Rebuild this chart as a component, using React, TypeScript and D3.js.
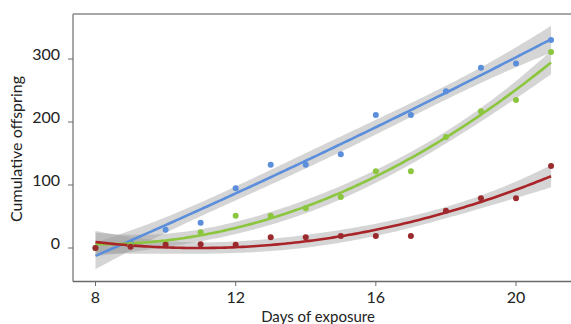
import React from "react";
import * as d3 from "d3";

const days = [8, 9, 10, 11, 12, 13, 14, 15, 16, 17, 18, 19, 20, 21];
const blueValues = [0, 8, 29, 40, 95, 132, 132, 149, 211, 211, 249, 286, 293, 330];
const greenValues = [0, 5, 8, 25, 51, 51, 63, 81, 122, 122, 176, 217, 235, 311];
const redValues = [0, 2, 5, 6, 5, 17, 17, 19, 19, 19, 59, 79, 79, 130];
const xTicks = [8, 12, 16, 20];
const yTicks = [0, 100, 200, 300];

const seriesList = [
  { name: "blue", values: blueValues, color: "#5b8edb", point: "#5b8edb" },
  { name: "green", values: greenValues, color: "#8cc63f", point: "#8cc63f" },
  { name: "red", values: redValues, color: "#a82428", point: "#9b2a2e" },
];

function inv3(m: number[][]) {
  const [a, b, c] = m[0];
  const [d, e, f] = m[1];
  const [g, h, i] = m[2];
  const A = e * i - f * h, B = -(d * i - f * g), C = d * h - e * g;
  const D = -(b * i - c * h), E = a * i - c * g, F = -(a * h - b * g);
  const G = b * f - c * e, H = -(a * f - c * d), I = a * e - b * d;
  const det = a * A + b * B + c * C;
  return [
    [A / det, D / det, G / det],
    [B / det, E / det, H / det],
    [C / det, F / det, I / det],
  ];
}

function quadFit(xs: number[], ys: number[]) {
  const n = xs.length;
  const xtx = [[0, 0, 0], [0, 0, 0], [0, 0, 0]];
  const xty = [0, 0, 0];
  xs.forEach((x, k) => {
    const v = [1, x, x * x];
    for (let i = 0; i < 3; i++) {
      xty[i] += v[i] * ys[k];
      for (let j = 0; j < 3; j++) xtx[i][j] += v[i] * v[j];
    }
  });
  const inv = inv3(xtx);
  const beta = [0, 1, 2].map((i) => inv[i][0] * xty[0] + inv[i][1] * xty[1] + inv[i][2] * xty[2]);
  const pred = (x: number) => beta[0] + beta[1] * x + beta[2] * x * x;
  let sse = 0;
  xs.forEach((x, k) => (sse += (ys[k] - pred(x)) ** 2));
  const s2 = sse / (n - 3);
  const t = 2.201;
  const se = (x: number) => {
    const v = [1, x, x * x];
    let q = 0;
    for (let i = 0; i < 3; i++) for (let j = 0; j < 3; j++) q += v[i] * inv[i][j] * v[j];
    return Math.sqrt(s2 * q);
  };
  return { pred, band: (x: number) => t * se(x) };
}

export default function App() {
  const W = 571, H = 324;
  const x = d3.scaleLinear().domain([8, 20]).range([95.5, 516]);
  const y = d3.scaleLinear().domain([0, 300]).range([248, 59]);
  const grid = d3.range(8, 21.0001, 0.1);
  const font = "Lato, 'Open Sans', sans-serif";

  const fits = seriesList.map((s) => {
    const f = quadFit(days, s.values);
    const pts = grid.map((g) => ({ g, m: f.pred(g), b: f.band(g) }));
    const area = d3.area<any>().x((d) => x(d.g)).y0((d) => y(d.m - d.b)).y1((d) => y(d.m + d.b))(pts) || "";
    const line = d3.line<any>().x((d) => x(d.g)).y((d) => y(d.m))(pts) || "";
    return { s, area, line };
  });

  return (
    <svg width={W} height={H} style={{ position: "absolute", left: 0, top: 0, background: "#fff" }}>
      <rect width={W} height={H} fill="#fff" />
      {fits.map((f) => (
        <path key={f.s.name + "a"} d={f.area} fill="#9a9a9a" fillOpacity={0.42} />
      ))}
      {fits.map((f) => (
        <path key={f.s.name + "l"} d={f.line} fill="none" stroke={f.s.color} strokeWidth={2.6} />
      ))}
      {seriesList.map((s) =>
        days.map((d, i) => (
          <circle key={s.name + d} cx={x(d)} cy={y(s.values[i])} r={3} fill={s.point} />
        ))
      )}
      <line x1={73} x2={571} y1={14} y2={14} stroke="#8a8a8a" strokeWidth={1.5} />
      <line x1={73} x2={73} y1={14} y2={281.5} stroke="#8a8a8a" strokeWidth={1.5} />
      <line x1={73} x2={571} y1={281.5} y2={281.5} stroke="#6a6a6a" strokeWidth={1.5} />
      {yTicks.map((t) => (
        <g key={"y" + t}>
          <line x1={68} x2={73} y1={y(t)} y2={y(t)} stroke="#6a6a6a" strokeWidth={1} />
          <text x={60} y={y(t) + 1} textAnchor="end" fontFamily={font} fontSize={16} fill="#222">
            {t}
          </text>
        </g>
      ))}
      {xTicks.map((t) => (
        <g key={"x" + t}>
          <line x1={x(t)} x2={x(t)} y1={281.5} y2={286} stroke="#6a6a6a" strokeWidth={1} />
          <text x={x(t)} y={303} textAnchor="middle" fontFamily={font} fontSize={16} fill="#222">
            {t}
          </text>
        </g>
      ))}
      <text x={318} y={322} textAnchor="middle" fontFamily={font} fontSize={15} fill="#222">
        Days of exposure
      </text>
      <text
        transform="translate(22,149) rotate(-90)"
        textAnchor="middle"
        fontFamily={font}
        fontSize={16}
        fill="#222"
      >
        Cumulative offspring
      </text>
    </svg>
  );
}
